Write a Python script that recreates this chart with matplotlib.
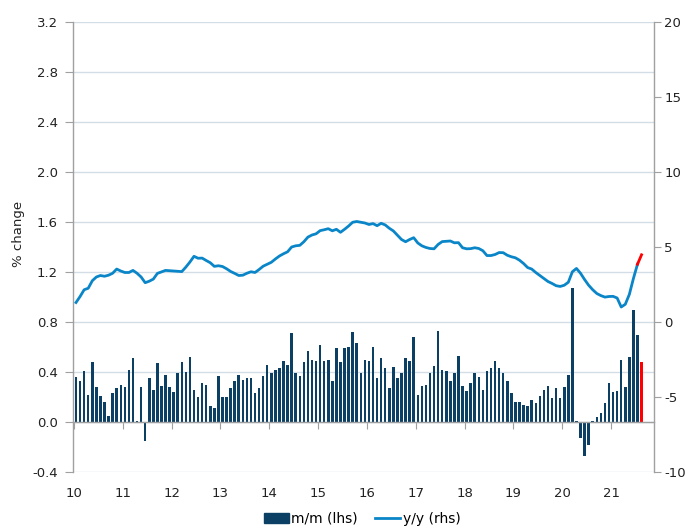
import numpy as np
import matplotlib
matplotlib.use('agg')
import matplotlib.pyplot as plt
from matplotlib.patches import Patch
from matplotlib.lines import Line2D

# monthly data, Jan 2010 - Aug 2021
start_year = 2010

mm_2010 = [0.36, 0.33, 0.41, 0.22, 0.48, 0.28, 0.21, 0.16, 0.05, 0.23, 0.27, 0.30]
mm_2011 = [0.28, 0.42, 0.51, 0.01, 0.28, -0.15, 0.35, 0.26, 0.47, 0.29, 0.38, 0.28]
mm_2012 = [0.24, 0.39, 0.48, 0.40, 0.52, 0.26, 0.20, 0.31, 0.30, 0.13, 0.11, 0.37]
mm_2013 = [0.20, 0.20, 0.27, 0.33, 0.38, 0.34, 0.35, 0.35, 0.23, 0.27, 0.37, 0.46]
mm_2014 = [0.39, 0.42, 0.43, 0.49, 0.46, 0.71, 0.39, 0.37, 0.48, 0.57, 0.50, 0.49]
mm_2015 = [0.62, 0.49, 0.50, 0.33, 0.59, 0.48, 0.59, 0.60, 0.72, 0.63, 0.39, 0.50]
mm_2016 = [0.49, 0.60, 0.35, 0.51, 0.43, 0.27, 0.44, 0.35, 0.39, 0.51, 0.49, 0.68]
mm_2017 = [0.22, 0.29, 0.30, 0.39, 0.45, 0.73, 0.42, 0.41, 0.33, 0.39, 0.53, 0.29]
mm_2018 = [0.25, 0.31, 0.39, 0.36, 0.26, 0.41, 0.43, 0.49, 0.43, 0.39, 0.33, 0.23]
mm_2019 = [0.16, 0.16, 0.14, 0.13, 0.18, 0.15, 0.21, 0.26, 0.29, 0.19, 0.27, 0.19]
mm_2020 = [0.28, 0.38, 1.07, 0.01, -0.13, -0.27, -0.18, 0.01, 0.04, 0.07, 0.15, 0.31]
mm_2021 = [0.24, 0.25, 0.50, 0.28, 0.52, 0.90, 0.70, 0.48]

yy_2010 = [1.3, 1.7, 2.15, 2.25, 2.75, 3.0, 3.1, 3.05, 3.12, 3.25, 3.53, 3.4]
yy_2011 = [3.3, 3.3, 3.44, 3.25, 3.0, 2.62, 2.72, 2.86, 3.24, 3.34, 3.44, 3.42]
yy_2012 = [3.4, 3.38, 3.36, 3.66, 4.0, 4.38, 4.25, 4.26, 4.1, 3.95, 3.71, 3.75]
yy_2013 = [3.7, 3.55, 3.37, 3.24, 3.1, 3.12, 3.25, 3.35, 3.3, 3.5, 3.72, 3.85]
yy_2014 = [3.98, 4.2, 4.4, 4.55, 4.68, 5.0, 5.08, 5.11, 5.35, 5.66, 5.8, 5.88]
yy_2015 = [6.09, 6.15, 6.22, 6.08, 6.18, 5.98, 6.18, 6.4, 6.65, 6.7, 6.65, 6.6]
yy_2016 = [6.5, 6.56, 6.42, 6.58, 6.47, 6.25, 6.07, 5.78, 5.5, 5.35, 5.5, 5.62]
yy_2017 = [5.27, 5.08, 4.97, 4.9, 4.88, 5.17, 5.36, 5.38, 5.4, 5.28, 5.29, 4.95]
yy_2018 = [4.88, 4.89, 4.95, 4.9, 4.75, 4.43, 4.43, 4.5, 4.63, 4.62, 4.45, 4.35]
yy_2019 = [4.28, 4.12, 3.9, 3.63, 3.53, 3.3, 3.1, 2.9, 2.7, 2.57, 2.42, 2.37]
yy_2020 = [2.45, 2.65, 3.35, 3.57, 3.25, 2.83, 2.45, 2.15, 1.9, 1.76, 1.66, 1.7]
yy_2021 = [1.71, 1.6, 1.0, 1.18, 1.84, 2.9, 3.85, 4.48]

year_labels = ['10', '11', '12', '13', '14', '15', '16', '17', '18', '19', '20', '21']
left_ticks = [-0.4, 0.0, 0.4, 0.8, 1.2, 1.6, 2.0, 2.4, 2.8, 3.2]
right_ticks = [-10, -5, 0, 5, 10, 15, 20]

mm = (mm_2010 + mm_2011 + mm_2012 + mm_2013 + mm_2014 + mm_2015 + mm_2016
      + mm_2017 + mm_2018 + mm_2019 + mm_2020 + mm_2021)
yy = (yy_2010 + yy_2011 + yy_2012 + yy_2013 + yy_2014 + yy_2015 + yy_2016
      + yy_2017 + yy_2018 + yy_2019 + yy_2020 + yy_2021)

bar_colour = '#0b3f63'
line_colour = '#0a86c8'
red = '#ff0000'
grid_colour = '#d3dde5'
axis_grey = '#a0a0a0'
text_colour = '#222222'

plt.rcParams['font.family'] = 'DejaVu Sans'
plt.rcParams['font.size'] = 9.5

n = len(mm)
x = start_year + (np.arange(n) + 0.5) / 12.0
colours = [bar_colour] * (n - 1) + [red]

fig = plt.figure(figsize=(6.96, 5.29), dpi=100)
ax = fig.add_axes([73 / 696, 1 - 472 / 529, (654 - 73) / 696, (472 - 22) / 529])
ax2 = ax.twinx()

ax.set_axisbelow(True)
ax.yaxis.grid(True, color=grid_colour, linewidth=1)
ax.bar(x, mm, width=0.62 / 12, color=colours, zorder=2)

ax2.plot(x[:-1], yy[:-1], color=line_colour, linewidth=2)
ax2.plot(x[-2:], yy[-2:], color=red, linewidth=2)

ax.set_xlim(2009.98, 2021.88)
ax.set_ylim(-0.4, 3.2)
ax2.set_ylim(-10, 20)

ax.set_yticks(left_ticks)
ax.set_yticklabels(['%.1f' % t for t in left_ticks])
ax2.set_yticks(right_ticks)
ax2.set_yticklabels([str(t) for t in right_ticks])

ax.set_xticks(np.arange(start_year, start_year + len(year_labels)))
ax.set_xticklabels(year_labels)

ax.spines['top'].set_visible(False)
ax2.spines['top'].set_visible(False)
ax2.spines['bottom'].set_visible(False)
ax2.spines['left'].set_visible(False)
ax.spines['right'].set_visible(False)
ax.spines['bottom'].set_position(('data', 0))
for a in [ax, ax2]:
    for s in a.spines.values():
        s.set_color(axis_grey)
        s.set_linewidth(1)

ax.tick_params(axis='y', direction='out', length=6, color=axis_grey, pad=5, labelcolor=text_colour)
ax.tick_params(axis='x', direction='out', length=5, color=axis_grey, pad=42, labelcolor=text_colour)
ax2.tick_params(axis='y', direction='out', length=5, color=axis_grey, pad=2.5, labelcolor=text_colour)

ax.set_ylabel('% change', color=text_colour)
ax.yaxis.set_label_coords(-0.083, 0.53)

handles = [Patch(color=bar_colour), Line2D([0], [0], color=line_colour, linewidth=2)]
fig.legend(handles, ['m/m (lhs)', 'y/y (rhs)'], loc='center', bbox_to_anchor=(362 / 696, 1 - 519 / 529),
           ncol=2, frameon=False, handlelength=1.8, handletextpad=0.15, columnspacing=1.3,
           fontsize=10)

fig.savefig('out.png', dpi=100)
